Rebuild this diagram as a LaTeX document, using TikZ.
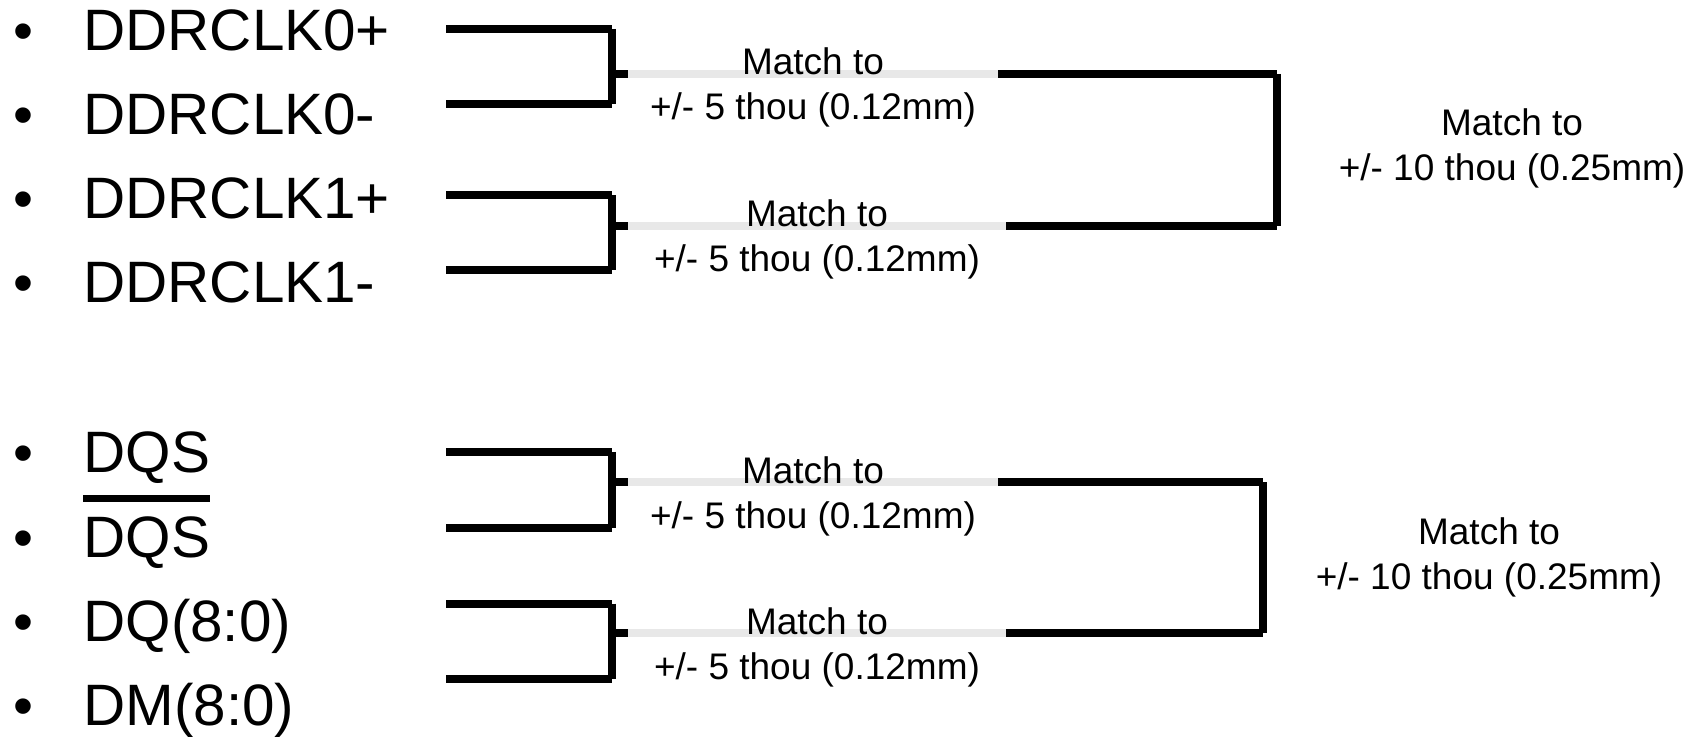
\documentclass[tikz,border=0pt]{standalone}
\usepackage{fontspec}
\setmainfont{Liberation Sans}
\begin{document}
\begin{tikzpicture}[x=0.5pt,y=-0.5pt,
  signame/.style={inner sep=0pt,anchor=base west,font=\fontsize{29.2}{35}\selectfont},
  bulletmark/.style={inner sep=0pt,anchor=base,font=\fontsize{28.5}{34}\selectfont},
  note/.style={inner sep=0pt,anchor=base,font=\fontsize{18.5}{22.5}\selectfont},
  trace/.style={line width=4pt,black,line cap=butt},
  skew/.style={line width=4pt,color=tracegray,line cap=butt}]
\definecolor{tracegray}{RGB}{232,232,232}
\useasboundingbox (0,0) rectangle (1697,737);

% signal list
\foreach \n/\y/\t in {1/51/DDRCLK0+,2/135/DDRCLK0-,3/219/DDRCLK1+,4/303/DDRCLK1-,
                      5/473/DQS,6/557/DQS,7/641/DQ(8:0),8/725/DM(8:0)}{
  \node[bulletmark] (b\n) at (23,\y) {•};
  \node[signame] (l\n) at (83,\y) {\t};
}
% complement bar over the second DQS
\draw[line width=3.5pt] ([yshift=8.5pt]l6.north west) -- ([yshift=8.5pt]l6.north east);

% pair brackets: left ends, joins and stubs
\foreach \k/\ya/\yb/\ys/\xg/\xr in {1/29/104/74/998/1277,2/195.5/270.5/226/1006/1277,
                                    3/452/528/482/998/1263,4/603.5/679/633/1006/1263}{
  \coordinate (s\k a) at (446,\ya);
  \coordinate (s\k b) at (446,\yb);
  \coordinate (j\k a) at (612,\ya);
  \coordinate (j\k b) at (612,\yb);
  \coordinate (j\k) at (612,\ys);
  \coordinate (g\k) at (628,\ys);
  \coordinate (e\k) at (\xg,\ys);
  \coordinate (r\k) at (\xr,\ys);
  \draw[trace] (s\k a) -- (j\k a);
  \draw[trace] (s\k b) -- (j\k b);
  \draw[trace] (j\k a) -- (j\k b);
  \draw[trace] (j\k) -- (g\k);
  \draw[skew] (g\k) -- (e\k);
  \draw[trace] (e\k) -- (r\k);
}
% group joins
\draw[trace] (r1) -- (r2);
\draw[trace] (r3) -- (r4);

% pair tolerances
\node[note] (m1a) at (813,75) {Match to};
\node[note] (m1b) at (813,120) {+/- 5 thou (0.12mm)};
\node[note] (m2a) at (817,227) {Match to};
\node[note] (m2b) at (817,272) {+/- 5 thou (0.12mm)};
\node[note] (m3a) at (813,483) {Match to};
\node[note] (m3b) at (813,528) {+/- 5 thou (0.12mm)};
\node[note] (m4a) at (817,634) {Match to};
\node[note] (m4b) at (817,679) {+/- 5 thou (0.12mm)};

% group tolerances
\node[note] (t1a) at (1512,136) {Match to};
\node[note] (t1b) at (1512,181) {+/- 10 thou (0.25mm)};
\node[note] (t2a) at (1489,544) {Match to};
\node[note] (t2b) at (1489,589) {+/- 10 thou (0.25mm)};
\end{tikzpicture}
\end{document}
